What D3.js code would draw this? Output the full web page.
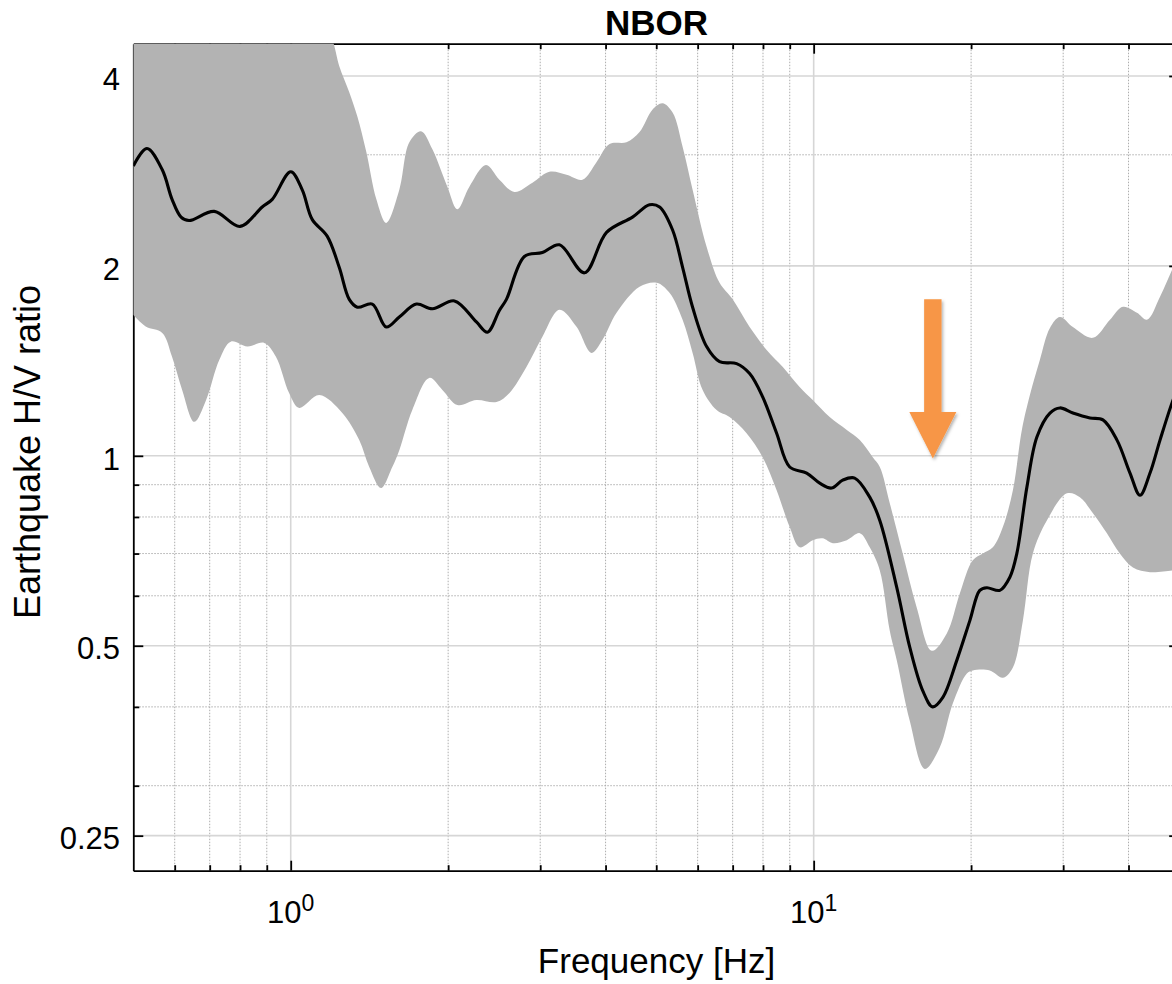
<!DOCTYPE html>
<html>
<head>
<meta charset="utf-8">
<script src="https://cdn.jsdelivr.net/npm/d3@7"></script>
<style>
  body { margin: 0; background: #fff; }
  svg { display: block; font-family: "Liberation Sans", Arial, Helvetica, sans-serif; }
</style>
</head>
<body>
<div id="wrapper"></div>
<script>
// mean H/V curve
const meanFreq = [0.5, 0.531, 0.568, 0.593, 0.617, 0.639, 0.714, 0.8, 0.882, 0.922, 1.0, 1.052, 1.099, 1.174, 1.238, 1.294, 1.341, 1.432, 1.523, 1.613, 1.739, 1.866, 2.056, 2.265, 2.377, 2.506, 2.585, 2.798, 3.029, 3.265, 3.645, 4.017, 4.504, 4.855, 5.074, 5.373, 5.615, 5.868, 6.241, 6.608, 7.122, 7.543, 7.988, 8.495, 8.998, 9.696, 10.27, 10.82, 11.36, 11.98, 12.8, 13.38, 14.42, 15.27, 16.17, 16.89, 17.66, 18.78, 19.89, 20.78, 21.43, 22.7, 23.72, 24.46, 25.57, 26.72, 28.3, 29.57, 31.31, 33.75, 35.74, 38.02, 40.26, 42.07, 43.97, 45.95, 48.44, 50];
const meanRatio = [2.88, 3.07, 2.84, 2.55, 2.39, 2.36, 2.44, 2.31, 2.48, 2.55, 2.82, 2.64, 2.37, 2.23, 1.99, 1.77, 1.72, 1.74, 1.60, 1.66, 1.74, 1.71, 1.76, 1.63, 1.57, 1.70, 1.77, 2.07, 2.10, 2.16, 1.95, 2.26, 2.39, 2.50, 2.48, 2.28, 1.99, 1.72, 1.49, 1.41, 1.40, 1.35, 1.24, 1.086, 0.96, 0.939, 0.905, 0.889, 0.915, 0.922, 0.86, 0.79, 0.618, 0.497, 0.424, 0.40, 0.414, 0.474, 0.548, 0.612, 0.618, 0.612, 0.642, 0.70, 0.892, 1.071, 1.169, 1.191, 1.169, 1.148, 1.14, 1.059, 0.939, 0.866, 0.939, 1.059, 1.213, 1.295];

// upper edge of the spread band
const upperFreq = [0.5, 0.7, 0.9, 1.1, 1.207, 1.238, 1.294, 1.341, 1.395, 1.458, 1.523, 1.613, 1.686, 1.775, 1.866, 1.993, 2.083, 2.196, 2.363, 2.506, 2.678, 2.899, 3.124, 3.368, 3.613, 3.843, 4.07, 4.386, 4.645, 4.92, 5.14, 5.373, 5.615, 5.868, 6.241, 6.608, 7.0, 7.543, 8.13, 8.73, 9.4, 9.96, 10.73, 11.57, 12.25, 12.97, 13.38, 13.98, 14.8, 15.74, 16.82, 17.97, 19.03, 20.15, 21.06, 22.01, 23.0, 24.04, 25.01, 25.91, 27.07, 28.3, 29.57, 31.31, 34.2, 36.86, 39.03, 41.52, 43.39, 45.95, 48.44, 50];
const upperRatio = [9, 8.5, 7.5, 5.6, 4.51, 4.15, 3.77, 3.45, 3.03, 2.55, 2.34, 2.64, 3.14, 3.27, 3.06, 2.67, 2.46, 2.67, 2.89, 2.74, 2.62, 2.71, 2.82, 2.79, 2.74, 2.92, 3.12, 3.14, 3.26, 3.54, 3.62, 3.50, 3.09, 2.64, 2.145, 1.88, 1.77, 1.60, 1.472, 1.383, 1.286, 1.226, 1.152, 1.099, 1.059, 0.995, 0.96, 0.841, 0.70, 0.575, 0.491, 0.523, 0.605, 0.683, 0.70, 0.716, 0.771, 0.882, 1.099, 1.248, 1.419, 1.595, 1.66, 1.60, 1.538, 1.643, 1.723, 1.685, 1.643, 1.787, 1.97, 2.08];

// lower edge of the spread band
const lowerFreq = [0.5, 0.528, 0.568, 0.593, 0.62, 0.654, 0.689, 0.73, 0.768, 0.826, 0.89, 0.937, 0.993, 1.038, 1.134, 1.255, 1.352, 1.413, 1.488, 1.564, 1.613, 1.708, 1.841, 1.95, 2.083, 2.265, 2.474, 2.62, 2.823, 3.029, 3.265, 3.52, 3.759, 3.947, 4.198, 4.645, 5.01, 5.3, 5.615, 5.868, 6.133, 6.523, 6.905, 7.442, 7.988, 8.495, 8.998, 9.4, 9.96, 10.4, 10.88, 11.57, 12.25, 12.8, 13.38, 13.98, 14.42, 15.27, 16.31, 17.42, 18.45, 19.63, 20.15, 21.72, 23.0, 24.04, 25.12, 26.25, 27.92, 30.5, 32.29, 34.2, 36.37, 38.5, 40.79, 43.97, 48.44, 50];
const lowerRatio = [1.673, 1.603, 1.566, 1.435, 1.272, 1.132, 1.226, 1.419, 1.517, 1.49, 1.51, 1.436, 1.258, 1.191, 1.248, 1.169, 1.059, 0.96, 0.889, 0.96, 1.021, 1.182, 1.329, 1.272, 1.204, 1.226, 1.217, 1.258, 1.383, 1.544, 1.704, 1.601, 1.456, 1.527, 1.685, 1.853, 1.881, 1.813, 1.643, 1.456, 1.272, 1.182, 1.152, 1.086, 0.995, 0.882, 0.771, 0.716, 0.735, 0.74, 0.727, 0.735, 0.754, 0.716, 0.658, 0.528, 0.474, 0.38, 0.319, 0.345, 0.405, 0.452, 0.457, 0.457, 0.445, 0.462, 0.548, 0.70, 0.79, 0.872, 0.86, 0.811, 0.754, 0.70, 0.665, 0.654, 0.658, 0.66];

const xMajorTicks = [1, 10];
const xMinorTicks = [0.6, 0.7, 0.8, 0.9, 2, 3, 4, 5, 6, 7, 8, 9, 20, 30, 40];
const yMajorTicks = [0.25, 0.5, 1, 2, 4];
const yMinorTicks = [0.3, 0.4, 0.6, 0.7, 0.8, 0.9, 3];

// orange marker: frequency, from/to ratio
const arrowFreq = 16.9;
const arrowFrom = 1.77;
const arrowTo = 0.99;

const W = 1172, H = 984;
const plot = { left: 133.3, right: 1179.2, top: 43.7, bottom: 870.7 };
const midX = 656.5;

const svg = d3.select(`#wrapper`)
  .append(`svg`)
  .attr(`width`, W)
  .attr(`height`, H);

const x = d3.scaleLog().domain([0.5, 50]).range([plot.left, plot.right]);
const y = d3.scaleLog().domain([0.22, 4.5]).range([plot.bottom, plot.top]);

svg.append(`defs`).append(`clipPath`).attr(`id`, `plot-clip`)
  .append(`rect`)
  .attr(`x`, plot.left).attr(`y`, plot.top)
  .attr(`width`, plot.right - plot.left)
  .attr(`height`, plot.bottom - plot.top);

const shadow = svg.select(`defs`).append(`filter`).attr(`id`, `shadow`)
  .attr(`x`, `-30%`).attr(`y`, `-30%`).attr(`width`, `160%`).attr(`height`, `160%`);
shadow.append(`feDropShadow`)
  .attr(`dx`, 1.5).attr(`dy`, 2).attr(`stdDeviation`, 1.8)
  .attr(`flood-color`, `#000`).attr(`flood-opacity`, 0.3);

// grid
const grid = svg.append(`g`);
grid.selectAll(`.gx-minor`).data(xMinorTicks).join(`line`)
  .attr(`x1`, d => x(d)).attr(`x2`, d => x(d))
  .attr(`y1`, plot.top).attr(`y2`, plot.bottom)
  .attr(`stroke`, `#adadad`).attr(`stroke-width`, 1).attr(`stroke-dasharray`, `1.5,1.5`);
grid.selectAll(`.gy-minor`).data(yMinorTicks).join(`line`)
  .attr(`x1`, plot.left).attr(`x2`, plot.right)
  .attr(`y1`, d => y(d)).attr(`y2`, d => y(d))
  .attr(`stroke`, `#adadad`).attr(`stroke-width`, 1).attr(`stroke-dasharray`, `1.5,1.5`);
grid.selectAll(`.gx-major`).data(xMajorTicks).join(`line`)
  .attr(`x1`, d => x(d)).attr(`x2`, d => x(d))
  .attr(`y1`, plot.top).attr(`y2`, plot.bottom)
  .attr(`stroke`, `#d6d6d6`).attr(`stroke-width`, 1.6);
grid.selectAll(`.gy-major`).data(yMajorTicks).join(`line`)
  .attr(`x1`, plot.left).attr(`x2`, plot.right)
  .attr(`y1`, d => y(d)).attr(`y2`, d => y(d))
  .attr(`stroke`, `#d6d6d6`).attr(`stroke-width`, 1.6);

// axes (ticks inside, on all four sides)
const styleAxis = g => {
  g.selectAll(`path, line`).attr(`stroke`, `#000`).attr(`stroke-width`, 1.8);
  g.selectAll(`text`).remove();
};
const noDomain = g => g.select(`.domain`).remove();

svg.append(`g`).attr(`transform`, `translate(0,${plot.bottom})`)
  .call(d3.axisBottom(x).tickValues(xMajorTicks).tickSize(-10).tickSizeOuter(0)).call(styleAxis);
svg.append(`g`).attr(`transform`, `translate(0,${plot.bottom})`)
  .call(d3.axisBottom(x).tickValues(xMinorTicks).tickSize(-5.5).tickSizeOuter(0)).call(noDomain).call(styleAxis);
svg.append(`g`).attr(`transform`, `translate(0,${plot.top})`)
  .call(d3.axisTop(x).tickValues(xMajorTicks).tickSize(-10).tickSizeOuter(0)).call(styleAxis);
svg.append(`g`).attr(`transform`, `translate(0,${plot.top})`)
  .call(d3.axisTop(x).tickValues(xMinorTicks).tickSize(-5.5).tickSizeOuter(0)).call(noDomain).call(styleAxis);
svg.append(`g`).attr(`transform`, `translate(${plot.left},0)`)
  .call(d3.axisLeft(y).tickValues(yMajorTicks).tickSize(-10).tickSizeOuter(0)).call(styleAxis);
svg.append(`g`).attr(`transform`, `translate(${plot.left},0)`)
  .call(d3.axisLeft(y).tickValues(yMinorTicks).tickSize(-6).tickSizeOuter(0)).call(noDomain).call(styleAxis);
svg.append(`g`).attr(`transform`, `translate(${plot.right},0)`)
  .call(d3.axisRight(y).tickValues(yMajorTicks).tickSize(-10).tickSizeOuter(0)).call(styleAxis);
svg.append(`g`).attr(`transform`, `translate(${plot.right},0)`)
  .call(d3.axisRight(y).tickValues(yMinorTicks).tickSize(-6).tickSizeOuter(0)).call(noDomain).call(styleAxis);

// spread band + mean curve
const curve = d3.curveCatmullRom.alpha(0.5);
const lineGen = d3.line().x(d => x(d[0])).y(d => y(d[1])).curve(curve);

const upperPts = d3.zip(upperFreq, upperRatio);
const lowerPts = d3.zip(lowerFreq, lowerRatio).reverse();
const bandPath = lineGen(upperPts) + `L` + lineGen(lowerPts).slice(1) + `Z`;

const plotArea = svg.append(`g`).attr(`clip-path`, `url(#plot-clip)`);
plotArea.append(`path`)
  .attr(`d`, bandPath)
  .attr(`fill`, `#b3b3b3`);
plotArea.append(`path`)
  .datum(d3.zip(meanFreq, meanRatio))
  .attr(`d`, lineGen)
  .attr(`fill`, `none`)
  .attr(`stroke`, `#000`)
  .attr(`stroke-width`, 3.1);

// orange arrow
const ax = x(arrowFreq);
const tailY = y(arrowFrom);
const tipY = y(arrowTo);
const headLen = 46.6, headHalf = 23.5, shaftHalf = 8.7;
svg.append(`path`)
  .attr(`d`, d3.line()([
    [ax - shaftHalf, tailY], [ax + shaftHalf, tailY],
    [ax + shaftHalf, tipY - headLen], [ax + headHalf, tipY - headLen],
    [ax, tipY],
    [ax - headHalf, tipY - headLen], [ax - shaftHalf, tipY - headLen]
  ]) + `Z`)
  .attr(`fill`, `#f79646`)
  .attr(`filter`, `url(#shadow)`);

// tick labels
svg.append(`g`).selectAll(`text`).data(yMajorTicks).join(`text`)
  .attr(`x`, 120)
  .attr(`y`, d => y(d) + 13.7)
  .attr(`text-anchor`, `end`)
  .attr(`font-size`, 31)
  .text(d => String(d));

const xl = svg.append(`g`).selectAll(`text`).data(xMajorTicks).join(`text`)
  .attr(`x`, d => x(d))
  .attr(`y`, 923.3)
  .attr(`text-anchor`, `middle`)
  .attr(`font-size`, 31);
xl.append(`tspan`).text(`10`);
xl.append(`tspan`).attr(`dy`, -12).attr(`font-size`, 23).text(d => Math.round(Math.log10(d)));

// titles
svg.append(`text`)
  .attr(`x`, midX).attr(`y`, 35)
  .attr(`text-anchor`, `middle`)
  .attr(`font-size`, 35)
  .attr(`font-weight`, `bold`)
  .text(`NBOR`);

svg.append(`text`)
  .attr(`x`, midX).attr(`y`, 972.7)
  .attr(`text-anchor`, `middle`)
  .attr(`font-size`, 35)
  .text(`Frequency [Hz]`);

svg.append(`text`)
  .attr(`transform`, `translate(40,452) rotate(-90)`)
  .attr(`text-anchor`, `middle`)
  .attr(`font-size`, 36)
  .text(`Earthquake H/V ratio`);
</script>
</body>
</html>
